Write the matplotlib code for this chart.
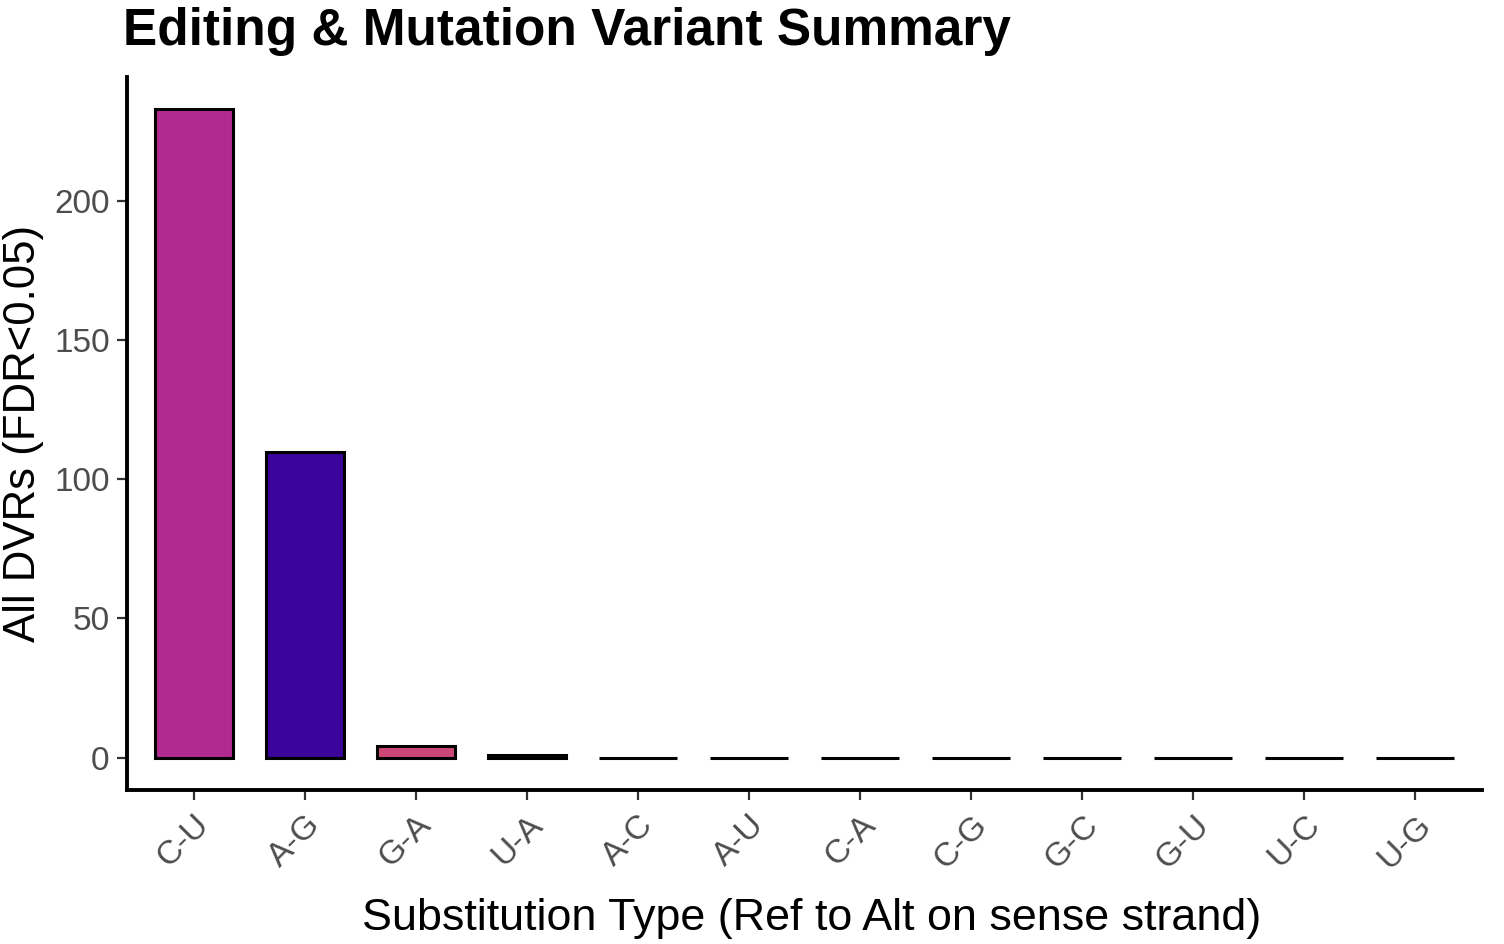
import numpy as np
import matplotlib as mpl
mpl.use("Agg")
import matplotlib.pyplot as plt
from matplotlib.transforms import ScaledTranslation

# substitution counts
subs = ['C-U', 'A-G', 'G-A', 'U-A', 'A-C', 'A-U', 'C-A', 'C-G', 'G-C', 'G-U', 'U-C', 'U-G']
counts = [233, 110, 4, 1, 0, 0, 0, 0, 0, 0, 0, 0]
fills = ['#B12A90', '#3B049A', '#CC4778', '#7E03A8', '#F0F921', '#FCA636',
         '#E16462', '#0D0887', '#6A00A8', '#F89540', '#9C179E', '#ED7953']

plt.rcParams['font.family'] = ['Liberation Sans', 'DejaVu Sans']

fig = plt.figure(figsize=(15.04, 9.44), dpi=100)
ax = fig.add_axes([127/1504, (944-790)/944, (1482-127)/1504, (790-77)/944])

x = np.arange(1, len(subs) + 1)
ax.bar(x, counts, width=0.7, color=fills, edgecolor='black', linewidth=2.2)

ax.set_xlim(0.4, 12.6)
top = max(counts)
ax.set_ylim(-0.05*top, 1.05*top)
ax.set_yticks([0, 50, 100, 150, 200])
ax.set_xticks(x)
ax.set_xticklabels(subs, rotation=45, ha='right', va='top', rotation_mode='anchor')

for s in ['top', 'right']:
    ax.spines[s].set_visible(False)
for s in ['left', 'bottom']:
    ax.spines[s].set_linewidth(2.8)
    ax.spines[s].set_color('black')

ax.tick_params(axis='both', length=7.5, width=1.6, color='#333333',
               labelcolor='#4D4D4D', labelsize=24, pad=5)
# small downward nudge of the rotated labels
shift = ScaledTranslation(0.0, -0.02, fig.dpi_scale_trans)
for lbl in ax.get_xticklabels():
    lbl.set_transform(lbl.get_transform() + shift)

ax.set_xlabel('Substitution Type (Ref to Alt on sense strand)', fontsize=32.3)
ax.xaxis.set_label_coords(0.505, -0.152)
ax.set_ylabel('All DVRs (FDR<0.05)', fontsize=31.5)
ax.yaxis.set_label_coords(-0.061, 0.5)
fig.text(123/1504, 1 - 45/944, 'Editing & Mutation Variant Summary',
         fontsize=37, fontweight='bold', ha='left', va='baseline')

fig.savefig('out.png', dpi=100)
